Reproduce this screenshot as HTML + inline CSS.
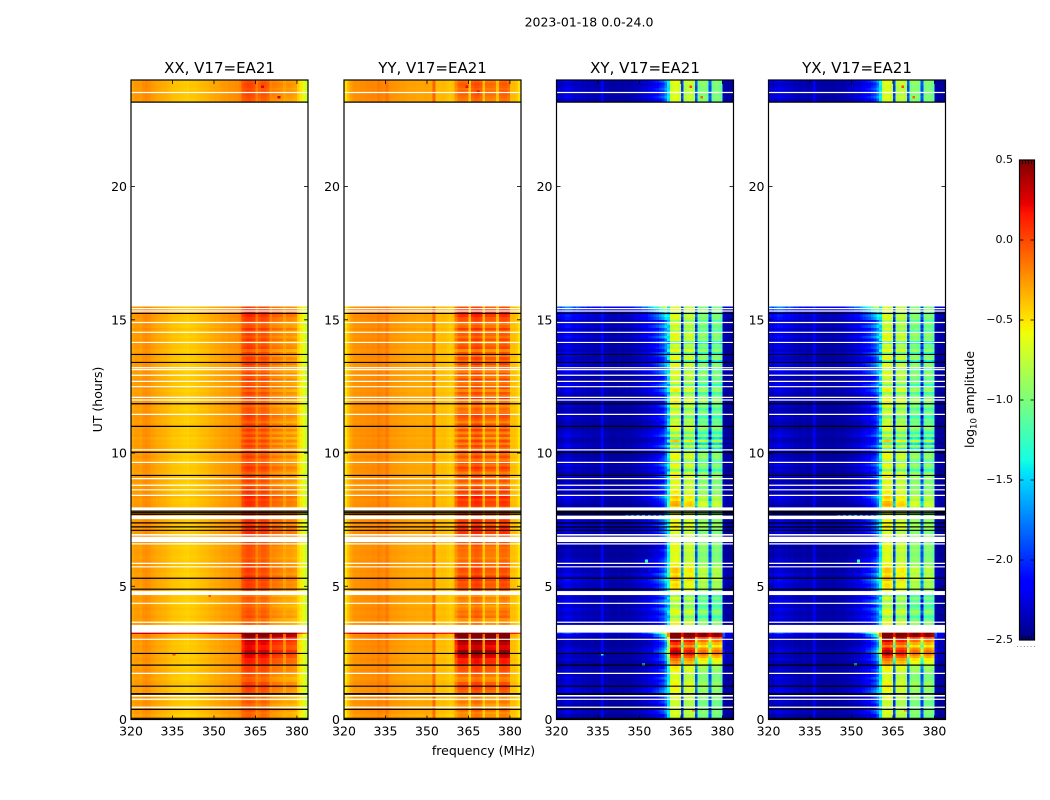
<!DOCTYPE html>
<html lang="en">
<head>
<meta charset="utf-8">
<title>2023-01-18 0.0-24.0</title>
<style>
html,body{margin:0;padding:0;background:#fff;width:1050px;height:800px;overflow:hidden}
svg{display:block;font-family:"DejaVu Sans","Liberation Sans",sans-serif;fill:#000}
</style>
</head>
<body>
<svg id="figure" xmlns="http://www.w3.org/2000/svg" width="1050" height="800" viewBox="0 0 1050 800">
  <rect x="0" y="0" width="1050" height="800" fill="#fff"/>
  <text x="589" y="26.5" text-anchor="middle" font-size="12.5">2023-01-18 0.0-24.0</text>
  <text transform="translate(102,399.5) rotate(-90)" text-anchor="middle" font-size="12.5">UT (hours)</text>
  <text x="483.5" y="755" text-anchor="middle" font-size="12.5">frequency (MHz)</text>
  <text transform="translate(974,399.5) rotate(-90)" text-anchor="middle" font-size="12.5">log<tspan font-size="8.5" dy="2.5">10</tspan><tspan dy="-2.5"> amplitude</tspan></text>
  <g id="panels"></g>
  <g id="colorbar"></g>
</svg>
<script>
// ---- categories and ticks ----
const panelNames = ['XX, V17=EA21', 'YY, V17=EA21', 'XY, V17=EA21', 'YX, V17=EA21'];
const xTicks = [320, 335, 350, 365, 380];
const yTicks = [0, 5, 10, 15, 20];
const colorbarTicks = [0.5, 0, -0.5, -1, -1.5, -2, -2.5];
const colorbarTickLabels = ['0.5', '0.0', '\u22120.5', '\u22121.0', '\u22121.5', '\u22122.0', '\u22122.5'];
const colorRange = [-2.5, 0.5];
const freqRange = [320, 384];
const hourRange = [0, 24];
const rowSegments = [[0, 15.5], [23.2, 24]];
const rowStep = 0.1;

// ---- log10 amplitude per 1 MHz channel (320..383) ----
const xxProfile = [-.30,-.27,-.27,-.28,-.24,-.22,-.24,-.27,-.29,-.31,
 -.32,-.33,-.34,-.36,-.38,-.40,-.40,-.41,-.42,-.43,
 -.44,-.42,-.42,-.41,-.39,-.38,-.37,-.36,-.34,-.33,
 -.31,-.31,-.29,-.27,-.27,-.25,-.25,-.24,-.23,-.20,
 -.10,-.08,-.06,-.07,-.10,-.20,-.15,-.11,-.11,-.15,
 -.24,-.25,-.26,-.28,-.30,-.32,-.32,-.32,-.34,-.36,
 -.44,-.52,-.65,-.72];
const yyProfile = [-.50,-.40,-.30,-.25,-.24,-.24,-.23,-.23,-.22,-.22,
 -.21,-.22,-.18,-.20,-.22,-.16,-.24,-.26,-.26,-.27,
 -.28,-.28,-.29,-.30,-.30,-.30,-.31,-.31,-.31,-.30,
 -.30,-.32,-.10,-.38,-.38,-.37,-.38,-.40,-.42,-.40,
 -.30,-.22,-.20,-.20,-.22,-.44,-.18,-.14,-.14,-.18,
 -.42,-.24,-.24,-.24,-.26,-.42,-.20,-.18,-.18,-.22,
 -.38,-.38,-.42,-.50];
const xyProfile = [-2.42,-2.44,-2.42,-2.38,-2.38,-2.42,-2.42,-2.45,-2.42,-2.45,
 -2.42,-2.44,-2.42,-2.44,-2.44,-2.44,-2.2,-2.44,-2.44,-2.45,
 -2.45,-2.45,-2.44,-2.45,-2.45,-2.44,-2.45,-2.45,-2.44,-2.44,
 -2.44,-2.42,-2.42,-2.4,-2.4,-2.36,-2.36,-2.3,-2.25,-2.05,
 -1.5,-.78,-.72,-.7,-.78,-2.05,-.88,-.84,-.8,-.86,
 -2.0,-1.1,-1.02,-1.02,-1.1,-2.0,-1.12,-1.05,-1.05,-1.15,
 -2.42,-2.45,-2.45,-2.45];
const yxProfile = [-2.4,-2.44,-2.42,-2.38,-2.4,-2.42,-2.4,-2.45,-2.42,-2.45,
 -2.44,-2.44,-2.42,-2.44,-2.44,-2.44,-2.22,-2.44,-2.44,-2.45,
 -2.45,-2.45,-2.45,-2.45,-2.44,-2.44,-2.45,-2.45,-2.44,-2.44,
 -2.44,-2.42,-2.42,-2.4,-2.38,-2.36,-2.36,-2.3,-2.25,-2.05,
 -1.5,-.8,-.72,-.72,-.8,-2.05,-.9,-.84,-.82,-.88,
 -2.0,-1.08,-1.0,-1.02,-1.08,-2.0,-1.1,-1.03,-1.05,-1.15,
 -2.42,-2.45,-2.45,-2.45];

// ---- how strongly each channel follows the row variations ----
const parallelBandWeight = [0,0,0,0,0,0,0,0,0,0, 0,0,0,0,0,0,0,0,0,0, 0,0,0,0,0,0,0,0,0,0, 0,0,0,0,0,0,0,0,0,0,
 .7,1,1,1,1,.3,1,1,1,1, .3,1,1,1,1,.3,1,1,1,1, 0,0,0,0];
const crossBandWeight = [0,0,0,0,0,0,0,0,0,0, 0,0,0,0,0,0,0,0,0,0, 0,0,0,0,0,0,0,0,0,0, 0,0,0,0,0,.1,.1,.15,.2,.3,
 .8,1.1,1.1,1.1,1.1,1.4,1.05,1.05,1.05,1.05, 1.4,.95,.95,.95,.95,1.4,.95,.95,.95,.95, .3,.1,.1,.1];
const crossOutWeight = [.9,.7,.9,1,1,.9,.7,.9,.7,.6, .6,.45,.5,.45,.45,.45,.3,.45,.4,.3,
 .3,.3,.4,.3,.3,.4,.4,.5,.6,.7, .7,.9,.9,1.1,1.3,1.4,1.6,1.8,2,2,
 0,0,0,0,0,0,0,0,0,0, 0,0,0,0,0,0,0,0,0,0, .3,.2,.2,.2];

// ---- row offsets, one per 0.1 h of the observed segments ----
const parallelBand = [
 0,.02,-.02,.05,0,-.03,.02,0,-.04,.03,
 .08,.12,.15,.10,.02,0,.05,.08,.10,.12,
 .18,.22,.20,.30,.34,.40,.28,.26,.34,.38,
 .45,.62,.62,0,0,0,0,-.02,.06,.02,
 .05,0,-.03,.03,0,.02,-.04,.04,.08,.10,
 .12,.10,.14,.16,.08,.10,.12,.06,.08,.06,
 .02,.05,.04,.06,.05,.08,.10,.14,.12,.16,
 .16,.18,.14,.10,.14,.12,.08,.10,.12,.06,
 .14,.16,.12,.18,.10,.14,.12,.06,.02,.08,
 .04,.12,.02,.10,.14,.06,.12,.02,.10,.04,
 .12,.02,.10,0,.12,-.02,.10,0,.12,.02,
 .10,0,.06,.10,.14,.02,.06,-.02,.08,0,
 .14,.04,.10,0,.12,.06,.02,.12,.04,.10,
 .02,.12,.04,.14,.06,.12,.02,.10,0,.12,
 .08,.02,.12,.04,.08,.02,.14,.06,.02,.10,
 .10,.16,.20,.14,.10,
 .02,.04,.06,.08,.04,.06,.08,.04];
const parallelOut = [
 .02,-.02,0,.02,-.01,0,.02,-.02,.01,0,
 0,-.02,0,.02,0,-.01,0,.01,.02,0,
 -.01,0,.02,0,.01,0,.01,.02,0,.02,
 .02,.05,.55,0,0,0,0,0,.02,0,
 0,.02,0,-.02,0,.01,0,0,.02,0,
 .01,0,.02,0,-.01,.01,0,.02,0,.01,
 -.01,0,.01,0,-.01,0,.01,.02,0,.02,
 .02,0,.03,.01,.02,0,.02,.01,0,.02,
 .02,.01,0,.03,0,.01,.02,0,-.01,.02,
 0,.02,-.01,.01,.02,0,.01,-.01,.02,0,
 .01,-.01,.02,0,.01,-.02,.02,0,.01,0,
 .02,0,.01,.02,0,.01,-.01,0,.02,0,
 .02,0,.01,-.01,.02,0,.01,.02,0,.01,
 0,.02,0,.02,.01,0,.02,0,-.01,.02,
 .01,0,.02,0,.01,-.01,.03,0,.01,.02,
 .02,.03,.02,.03,.02,
 .01,.02,.02,.03,.01,.02,.02,.01];
const crossBand = [
 .05,.02,.10,.05,0,.02,0,.05,.12,.08,
 .10,.15,.20,.15,.10,.05,.05,.10,.15,.20,
 .35,.45,.55,.75,.95,.95,.85,.55,.75,.95,
 1.15,1.6,1.6,.1,.1,.1,.2,0,-.2,.05,
 .15,0,-.2,.1,-.1,.1,-.2,-.1,.15,.2,
 .25,.15,.35,.3,.2,.3,.3,.1,.2,.1,
 .1,.05,.05,.15,.05,.15,.05,.05,.15,.05,
 .05,.15,.25,.1,.15,.05,.15,.05,.05,.15,
 .4,.35,.2,.3,.1,.2,.05,.05,.15,.05,
 .25,.05,.15,-.25,.05,.15,-.3,.05,.15,.1,
 .05,-.4,.2,-.45,.3,-.4,.15,-.25,.05,.15,
 .05,-.05,.05,-.25,.15,.05,-.15,.15,-.15,.2,
 .15,.05,-.2,.2,.1,-.25,.05,-.05,.05,.15,
 .05,-.3,.15,.05,-.35,.15,.05,-.25,.15,-.05,
 .05,-.35,.15,.05,.15,-.25,.05,-.05,.15,-.15,
 .05,.15,-.2,.15,.05,
 .05,.1,.05,.1,.05,.05,.1,.1];
const crossOut = [
 .1,.05,.15,.2,.1,.05,.15,.1,.15,.05,
 .25,.2,.1,.15,.1,.2,.1,.1,.15,.05,
 .1,.05,.15,.1,.1,.2,.15,.1,.05,.1,
 .1,.25,.5,.1,.1,.1,.1,.15,.2,.1,
 .15,.25,.1,.2,.25,.1,.2,.1,.15,.2,
 .15,.25,.3,.15,.25,.1,.15,.05,.1,.15,
 .1,.05,.05,.1,0,.05,.05,.1,.15,.1,
 .2,.15,.25,.1,.2,.35,.15,.1,.2,.1,
 .05,.1,.15,.25,.1,.05,.15,.2,.1,.05,
 .1,.2,.05,.15,.1,.2,.05,.15,.1,.05,
 .15,.1,.2,.15,.05,.1,.2,.15,.1,.05,
 .1,.05,.1,.15,.05,.1,.05,.15,.1,.05,
 .1,.05,.15,.2,.1,.25,.15,.1,.05,.2,
 .25,.1,.2,.25,.15,.1,.2,.25,.1,.2,
 .15,.25,.1,.3,.2,.25,.15,.3,.2,.1,
 .3,.35,.3,.5,.7,
 .1,.2,.15,.1,.2,.15,.1,.2];

// ---- isolated cells: panel index, hour, MHz, value ----
const hotCells = [
 [0,23.7,367,.25],[0,23.3,373,.3],[0,4.6,348,-.02],[0,2.4,335,.02],[1,23.5,368,.3],[1,23.7,364,.2],
 [2,23.7,368,0],[2,23.3,372,-.1],[3,23.7,368,0],[3,23.3,372,-.1],
 [2,5.9,352,-1.3],[2,2.0,351,-1.3],[2,2.4,336,-1.4],[3,5.9,352,-1.3],[3,2.0,351,-1.3],
 [2,.3,369,-.2],[3,.3,369,-.2],
 [2,7.6,345,-1.8],[2,7.6,347,-1.7],[2,7.6,349,-1.6],[2,7.6,351,-1.6],[2,7.6,353,-1.6],[2,7.6,355,-1.7],[2,7.6,357,-1.6],[2,7.6,359,-1.4],
 [3,7.6,345,-1.8],[3,7.6,347,-1.7],[3,7.6,349,-1.6],[3,7.6,351,-1.6],[3,7.6,353,-1.6],[3,7.6,355,-1.7],[3,7.6,357,-1.6],[3,7.6,359,-1.4]
];

// ---- flagged times (hours) ----
const whiteBands = [[15.5,23.17],[7.83,7.96],[7.52,7.65],[6.90,6.96],[6.66,6.86],[4.67,4.82],[3.26,3.55],[.86,.92]];
const whiteLines = [23.53,15.42,15.33,14.90,14.53,14.15,13.20,13.13,12.92,12.69,12.49,12.09,11.99,11.45,10.12,9.65,9.04,8.79,8.62,8.41,6.59,5.86,5.73,4.36,3.65,3.01,1.73,.76,.46];
const blackLines = [23.17,15.24,13.70,13.40,11.85,11.00,10.03,9.16,7.82,7.76,7.70,7.38,7.23,7.10,5.30,4.89,2.48,2.04,1.25,.96,.38,.045];
const blackBands = [[.93,.99]];

// ---- layout ----
const panelLefts = [131, 344, 556.5, 768.5];
const panelWidth = 177;
const plotTop = 80;
const plotBottom = 719.5;
const NS = 'http://www.w3.org/2000/svg';

function make(tag, attrs, parent) {
  const el = document.createElementNS(NS, tag);
  for (const k in attrs) el.setAttribute(k, attrs[k]);
  parent.appendChild(el);
  return el;
}
function xScale(mhz, left) {
  return left + (mhz - freqRange[0]) / (freqRange[1] - freqRange[0]) * panelWidth;
}
function yScale(hour) {
  return plotBottom - (hour - hourRange[0]) / (hourRange[1] - hourRange[0]) * (plotBottom - plotTop);
}
function interp(points, t) {
  for (let i = 1; i < points.length; i++) {
    if (t <= points[i][0]) {
      const a = points[i - 1], b = points[i];
      return a[1] + (b[1] - a[1]) * (t - a[0]) / (b[0] - a[0]);
    }
  }
  return points[points.length - 1][1];
}
const jetR = [[0,0],[.35,0],[.66,1],[.89,1],[1,.5]];
const jetG = [[0,0],[.125,0],[.375,1],[.64,1],[.91,0],[1,0]];
const jetB = [[0,.5],[.11,1],[.34,1],[.65,0],[1,0]];
function colorScale(v) {
  const t = Math.max(0, Math.min(1, (v - colorRange[0]) / (colorRange[1] - colorRange[0])));
  const c = [jetR, jetG, jetB].map(p => Math.round(interp(p, t) * 255));
  return 'rgb(' + c[0] + ',' + c[1] + ',' + c[2] + ')';
}
function rowHours() {
  const out = [];
  rowSegments.forEach(seg => {
    const n = Math.round((seg[1] - seg[0]) / rowStep);
    for (let i = 0; i < n; i++) out.push(seg[0] + i * rowStep);
  });
  return out;
}
function cellValue(p, r, f) {
  if (p === 0) return xxProfile[f] + parallelOut[r] + parallelBand[r] * parallelBandWeight[f];
  if (p === 1) return yyProfile[f] + parallelOut[r] + parallelBand[r] * parallelBandWeight[f] * 1.6;
  const prof = p === 2 ? xyProfile : yxProfile;
  return prof[f] + crossOut[r] * crossOutWeight[f] + crossBand[r] * crossBandWeight[f];
}

const panelsGroup = document.getElementById('panels');
const hours = rowHours();
const channels = xxProfile.length;
const channelWidth = (freqRange[1] - freqRange[0]) / channels;

panelNames.forEach((name, p) => {
  const left = panelLefts[p];
  const right = left + panelWidth;
  const g = make('g', {}, panelsGroup);
  
  

  const cells = make('g', {'shape-rendering': 'crispEdges'}, g);
  
  
  hours.forEach((h, r) => {
    const yTop = yScale(h + rowStep), yBot = yScale(h);
    for (let f = 0; f < channels; f++) {
      const mhz = freqRange[0] + f * channelWidth;
      const x0 = xScale(mhz, left), x1 = xScale(mhz + channelWidth, left);
      const cell = make('rect', {x: x0, y: yTop, width: x1 - x0, height: yBot - yTop, fill: colorScale(cellValue(p, r, f))}, cells);
      
      
    }
  });
  hotCells.filter(c => c[0] === p).forEach(c => {
    const hot = make('rect', {x: xScale(c[2], left), y: yScale(c[1] + rowStep), width: xScale(c[2] + channelWidth, left) - xScale(c[2], left), height: yScale(c[1]) - yScale(c[1] + rowStep), fill: colorScale(c[3])}, cells);
    
    
  });

  whiteBands.forEach(b => {
    const band = make('rect', {x: left, y: yScale(b[1]), width: panelWidth, height: yScale(b[0]) - yScale(b[1]), fill: '#fff'}, g);
    
    
  });
  whiteLines.forEach(h => {
    const line = make('line', {x1: left, x2: right, y1: yScale(h), y2: yScale(h), stroke: '#fff', 'stroke-width': 1.2}, g);
    
    
  });
  blackLines.forEach(h => {
    const line = make('line', {x1: left, x2: right, y1: yScale(h), y2: yScale(h), stroke: '#000', 'stroke-width': 1.2}, g);
    
    
  });
  blackBands.forEach(b => {
    const band = make('rect', {x: left, y: yScale(b[1]), width: panelWidth, height: yScale(b[0]) - yScale(b[1]), fill: '#000'}, g);
    
    
  });

  xTicks.forEach(t => {
    const x = xScale(t, left);
    const tb = make('line', {x1: x, x2: x, y1: plotBottom, y2: plotBottom - 4, stroke: '#000', 'stroke-width': 0.8}, g);
    
    
    const tt = make('line', {x1: x, x2: x, y1: plotTop, y2: plotTop + 4, stroke: '#000', 'stroke-width': 0.8}, g);
    
    
    const lab = make('text', {x: x, y: 735.5, 'text-anchor': 'middle', 'font-size': 12.5}, g);
    
    
    lab.textContent = t;
  });
  yTicks.forEach(t => {
    const y = yScale(t);
    const tl = make('line', {x1: left, x2: left + 4, y1: y, y2: y, stroke: '#000', 'stroke-width': 0.8}, g);
    
    
    const tr = make('line', {x1: right, x2: right - 4, y1: y, y2: y, stroke: '#000', 'stroke-width': 0.8}, g);
    
    
    const lab = make('text', {x: left - 4, y: y + 4.5, 'text-anchor': 'end', 'font-size': 12.5}, g);
    
    
    lab.textContent = t;
  });

  const frame = make('rect', {x: left, y: plotTop, width: panelWidth, height: plotBottom - plotTop, fill: 'none', stroke: '#000', 'stroke-width': 1.2}, g);
  
  
  const title = make('text', {x: left + panelWidth / 2, y: 73, 'text-anchor': 'middle', 'font-size': 15}, g);
  
  
  title.textContent = name;
});

// ---- colorbar ----
const cb = {left: 1019.5, right: 1034.5, top: 160, bottom: 640};
const cbGroup = document.getElementById('colorbar');
function cbScale(v) {
  return cb.bottom - (v - colorRange[0]) / (colorRange[1] - colorRange[0]) * (cb.bottom - cb.top);
}
const cbSteps = 256;
const cbRects = make('g', {'shape-rendering': 'crispEdges'}, cbGroup);


for (let i = 0; i < cbSteps; i++) {
  const v0 = colorRange[0] + (colorRange[1] - colorRange[0]) * i / cbSteps;
  const v1 = colorRange[0] + (colorRange[1] - colorRange[0]) * (i + 1) / cbSteps;
  const r = make('rect', {x: cb.left, y: cbScale(v1), width: cb.right - cb.left, height: cbScale(v0) - cbScale(v1) + 0.3, fill: colorScale((v0 + v1) / 2)}, cbRects);
  
  
}
colorbarTicks.forEach((v, i) => {
  const y = cbScale(v);
  const a = make('line', {x1: cb.left, x2: cb.left + 4, y1: y, y2: y, stroke: '#000', 'stroke-width': 0.8}, cbGroup);
  
  
  const b = make('line', {x1: cb.right, x2: cb.right - 4, y1: y, y2: y, stroke: '#000', 'stroke-width': 0.8}, cbGroup);
  
  
  const lab = make('text', {x: 1013, y: y + 3, 'text-anchor': 'end', 'font-size': 11}, cbGroup);
  
  
  lab.textContent = colorbarTickLabels[i];
});
[0.2, 0.4, 0.6, 0.8].forEach(f => {
  const x = cb.left + (cb.right - cb.left) * f;
  const t1 = make('line', {x1: x, x2: x, y1: cb.top, y2: cb.top + 4, stroke: '#000', 'stroke-width': 0.8}, cbGroup);
  
  
  const t2 = make('line', {x1: x, x2: x, y1: cb.bottom, y2: cb.bottom - 4, stroke: '#000', 'stroke-width': 0.8}, cbGroup);
  
  
});
const cbFrame = make('rect', {x: cb.left, y: cb.top, width: cb.right - cb.left, height: cb.bottom - cb.top, fill: 'none', stroke: '#000', 'stroke-width': 1.2}, cbGroup);


const cbDots = make('line', {x1: 1017, x2: 1035, y1: 646.5, y2: 646.5, stroke: '#888', 'stroke-width': 1, 'stroke-dasharray': '1 2.4'}, cbGroup);


</script>
</body>
</html>
